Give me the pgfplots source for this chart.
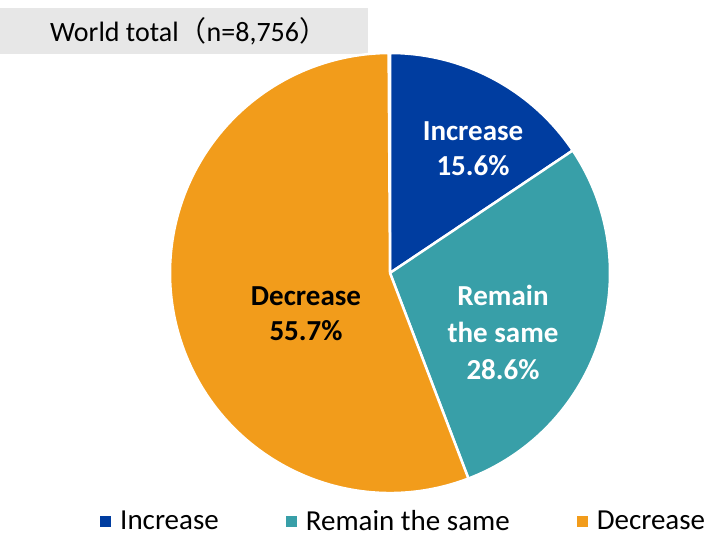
\documentclass[border=0pt]{standalone}
\usepackage{pgfplots}
\pgfplotsset{compat=1.18}
\usepackage{fontspec}
\setmainfont{Carlito}
\newfontfamily\cjk{Noto Sans CJK JP}
\definecolor{incr}{RGB}{0,61,160}
\definecolor{same}{RGB}{56,159,168}
\definecolor{decr}{RGB}{242,156,27}
\definecolor{boxgray}{RGB}{231,231,231}
% shares (%)
\def\vA{15.6}\def\vB{28.6}\def\vC{55.7}
\pgfmathsetmacro\aA{90-3.6*\vA}
\pgfmathsetmacro\aB{\aA-3.6*\vB}
\pgfmathsetmacro\aC{\aB-3.6*\vC}
\begin{document}%
\begin{tikzpicture}
\begin{axis}[
  scale only axis, width=712pt, height=541pt,
  xmin=0, xmax=712, ymin=0, ymax=541,
  hide axis, clip=false,
  legend style={at={(axis cs:97,20)}, anchor=west, draw=none, fill=none,
    font=\fontsize{29}{32}\selectfont, legend columns=3,
    /tikz/every odd column/.append style={column sep=8pt},
    /tikz/every even column/.append style={column sep=65pt}},
  legend cell align=left,
]
\addlegendimage{only marks, mark=square*, mark size=5pt, incr}
\addlegendentry{Increase}
\addlegendimage{only marks, mark=square*, mark size=5pt, same}
\addlegendentry{Remain the same}
\addlegendimage{only marks, mark=square*, mark size=5pt, decr}
\addlegendentry{Decrease}
\fill[boxgray] (axis cs:0,487) rectangle (axis cs:368,533);
\node[anchor=west, inner sep=0pt, font=\fontsize{28}{30}\selectfont] at (axis cs:50,510) {World total{\cjk （}n=8,756{\cjk ）}};
\fill[incr, draw=white, line width=2.5pt, line join=round] (axis cs:390,268) -- ++(90:220pt) arc[start angle=90, end angle=\aA, radius=220pt] -- cycle;
\fill[same, draw=white, line width=2.5pt, line join=round] (axis cs:390,268) -- ++(\aA:220pt) arc[start angle=\aA, end angle=\aB, radius=220pt] -- cycle;
\fill[decr, draw=white, line width=2.5pt, line join=round] (axis cs:390,268) -- ++(\aB:220pt) arc[start angle=\aB, end angle=\aC, radius=220pt] -- cycle;
\node[white, font=\fontsize{29}{35}\selectfont\bfseries, align=center] at (axis cs:473,392) {Increase\\15.6\%};
\node[white, font=\fontsize{29}{37}\selectfont\bfseries, align=center] at (axis cs:503,209) {Remain\\the same\\28.6\%};
\node[black, font=\fontsize{29}{35}\selectfont\bfseries, align=center] at (axis cs:306,227) {Decrease\\55.7\%};
\end{axis}
\pgfresetboundingbox
\path (current axis.south west) rectangle (current axis.north east);
\end{tikzpicture}%
\end{document}
